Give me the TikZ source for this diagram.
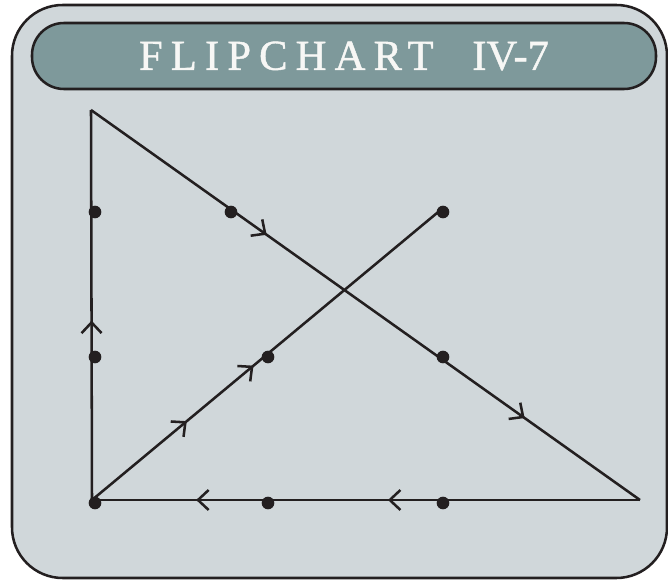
\documentclass[tikz,border=0pt]{standalone}
\usepackage{fontspec}
\setmainfont{Liberation Serif}
\usetikzlibrary{arrows.meta,decorations.markings}
\definecolor{PanelGrey}{HTML}{D0D7DA}
\definecolor{TitleTeal}{HTML}{7E999B}
\definecolor{InkBlack}{HTML}{231F20}
\definecolor{TitleWhite}{HTML}{F7F7F5}

\begin{document}
\begin{tikzpicture}[x=0.75pt, y=-0.75pt,
    puzzledot/.style={circle, fill=InkBlack, inner sep=0pt, minimum size=9.5pt},
    pathline/.style={draw=InkBlack, line width=1.9pt},
    tipat/.style={postaction={decorate, decoration={markings, mark=at position #1 with {\arrow{Straight Barb[length=8pt, width=15pt]}}}}}]
    \useasboundingbox (0,0) rectangle (668,581);
    \draw[draw=InkBlack, fill=PanelGrey, line width=1.9pt, rounded corners=38pt] (12,5) rectangle (667,578);
    \node[draw=InkBlack, fill=TitleTeal, line width=1.9pt, rounded corners=24pt, minimum width=468pt, minimum height=49.5pt, text=TitleWhite, font=\fontsize{32}{38}\selectfont\addfontfeatures{FakeBold=1}] (title) at (344,56) {{\addfontfeatures{LetterSpace=19}FLIPCHART}\hspace{29pt}IV-7\hspace{13.5pt}};
    % corners of the four strokes
    \coordinate (apex) at (91,110);
    \coordinate (corner) at (92,500);
    \coordinate (tipright) at (640,500);
    \coordinate (lastend) at (443,208);
    \draw[pathline, tipat=0.46] (corner) -- (apex);
    \draw[pathline, tipat=0.32, tipat=0.79] (apex) -- (tipright);
    \draw[pathline, tipat=0.46, tipat=0.81] (tipright) -- (corner);
    \draw[pathline, tipat=0.27, tipat=0.46] (corner) -- (lastend);
    % the nine dots
    \node[puzzledot] (topleft) at (95,212) {};
    \node[puzzledot] (topmid) at (231,212) {};
    \node[puzzledot] (topright) at (443,212) {};
    \node[puzzledot] (midleft) at (95,357) {};
    \node[puzzledot] (midmid) at (268,357) {};
    \node[puzzledot] (midright) at (443,357) {};
    \node[puzzledot] (botleft) at (95,503) {};
    \node[puzzledot] (botmid) at (268,503) {};
    \node[puzzledot] (botright) at (443,503) {};
\end{tikzpicture}
\end{document}
